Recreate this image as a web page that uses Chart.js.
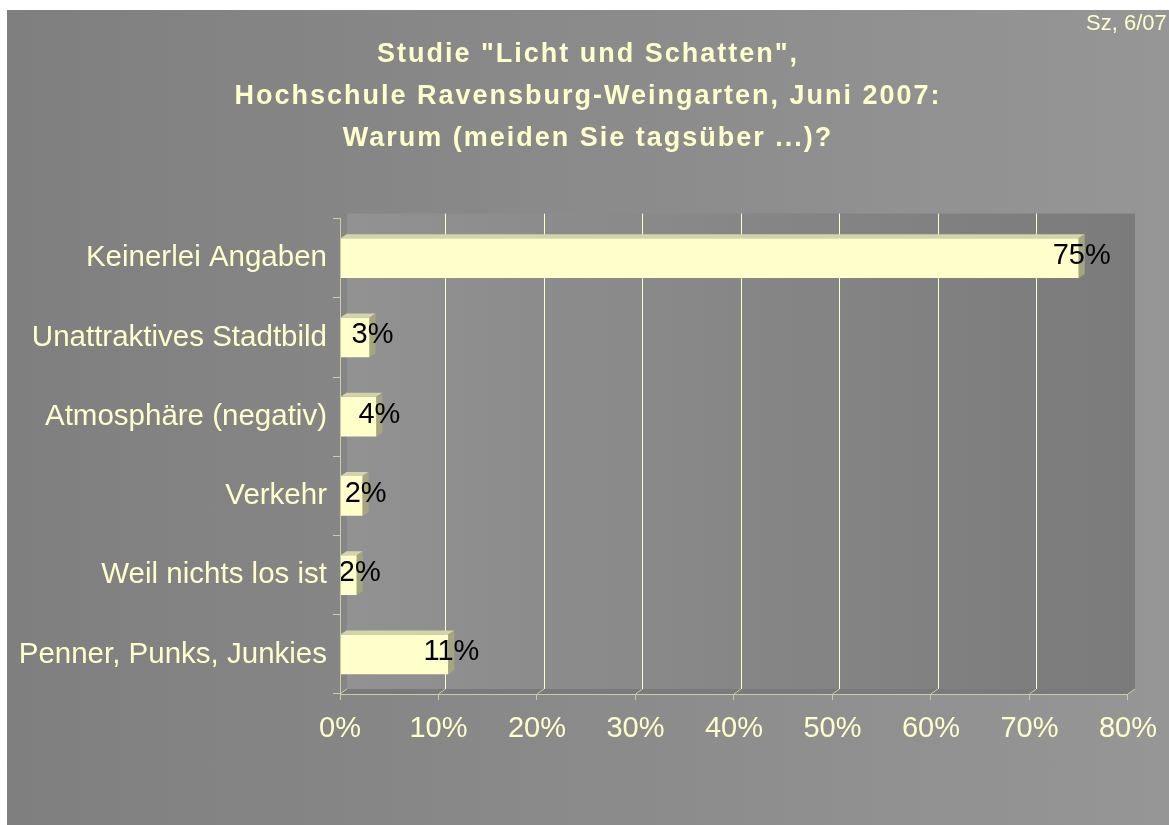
<!DOCTYPE html>
<html>
<head>
<meta charset="utf-8">
<title>Studie "Licht und Schatten"</title>
<script src="https://cdn.jsdelivr.net/npm/chart.js@4"></script>
<style>
  html, body { margin: 0; padding: 0; background: #ffffff; }
  #slide {
    position: absolute; left: 7px; top: 10px; width: 1162px; height: 815px;
    background: linear-gradient(to right, #7f7f7f, #969696);
  }
  canvas { display: block; }
</style>
</head>
<body>
<div id="slide"><canvas id="chart" width="1162" height="815"></canvas></div>
<script>
// Chart data
const categories = ['Keinerlei Angaben', 'Unattraktives Stadtbild', 'Atmosphäre (negativ)', 'Verkehr', 'Weil nichts los ist', 'Penner, Punks, Junkies'];
const shares = [75, 3, 3.7, 2.3, 1.7, 11];
const xMin = 0;
const xMax = 80;
const xStep = 10;
const titleLines = ['Studie "Licht und Schatten",', 'Hochschule Ravensburg-Weingarten, Juni 2007:', 'Warum (meiden Sie tagsüber ...)?'];
const stampText = 'Sz, 6/07';

const FONT = "'Liberation Sans', Arial, sans-serif";
const PALE = '#ffffcc';
const AXIS_LINE = '#cccca8';
const DEPTH = { x: 7, y: 5 };      // back wall offset
const BAR_DEPTH = { x: 6, y: 4 };  // bar top / side faces

function poly(ctx, pts, fill) {
    ctx.beginPath();
    ctx.moveTo(pts[0][0], pts[0][1]);
    for (let i = 1; i < pts.length; i++) ctx.lineTo(pts[i][0], pts[i][1]);
    ctx.closePath();
    ctx.fillStyle = fill;
    ctx.fill();
}

// --- 3D look: walls behind the bars, faces on the bars, value labels ---
const slide3d = {
    id: 'slide3d',
    beforeDraw(chart) {
        const { ctx, chartArea: a } = chart;
        const xs = chart.scales.x;
        ctx.save();
        const g = ctx.createLinearGradient(a.left, 0, a.right, 0);
        g.addColorStop(0, '#929292');
        g.addColorStop(1, '#7b7b7b');
        ctx.fillStyle = g;
        ctx.fillRect(a.left + DEPTH.x, a.top - DEPTH.y, a.right - a.left, a.bottom - a.top);

        poly(ctx, [[a.left, a.top], [a.left + DEPTH.x, a.top - DEPTH.y],
                   [a.left + DEPTH.x, a.bottom - DEPTH.y], [a.left, a.bottom]], '#868686');
        poly(ctx, [[a.left, a.bottom], [a.left + DEPTH.x, a.bottom - DEPTH.y],
                   [a.right + DEPTH.x, a.bottom - DEPTH.y], [a.right, a.bottom]], '#7a7a7a');

        ctx.lineWidth = 1;
        xs.ticks.forEach((t, i) => {
            const px = xs.getPixelForValue(t.value);
            if (i > 0 && i < xs.ticks.length - 1) {
                const gx = Math.round(px + DEPTH.x) + 0.5;
                ctx.strokeStyle = PALE;
                ctx.beginPath();
                ctx.moveTo(gx, a.top - DEPTH.y);
                ctx.lineTo(gx, a.bottom - DEPTH.y);
                ctx.stroke();
            }
            ctx.strokeStyle = AXIS_LINE;
            ctx.beginPath();
            ctx.moveTo(px, a.bottom);
            ctx.lineTo(px + DEPTH.x, a.bottom - DEPTH.y);
            ctx.stroke();
        });
        ctx.restore();
        ctx.letterSpacing = '2px';   // title only
    },
    beforeDatasetsDraw(chart) {
        chart.ctx.letterSpacing = '0px';
    },
    afterDatasetsDraw(chart) {
        const ctx = chart.ctx;
        const meta = chart.getDatasetMeta(0);
        ctx.save();
        meta.data.forEach((bar, i) => {
            const { x, y, base, height } = bar.getProps(['x', 'y', 'base', 'height'], true);
            const top = y - height / 2;
            const bottom = y + height / 2;
            poly(ctx, [[base, top], [base + BAR_DEPTH.x, top - BAR_DEPTH.y],
                       [x + BAR_DEPTH.x, top - BAR_DEPTH.y], [x, top]], '#d4d4ac');
            poly(ctx, [[x, top], [x + BAR_DEPTH.x, top - BAR_DEPTH.y],
                       [x + BAR_DEPTH.x, bottom - BAR_DEPTH.y], [x, bottom]], '#a6a67e');

            ctx.font = '29px ' + FONT;
            ctx.fillStyle = '#000000';
            ctx.textAlign = 'center';
            ctx.textBaseline = 'middle';
            ctx.fillText(Math.round(shares[i]) + '%', x + 3, y - 2);
        });
        ctx.restore();
    },
    afterDraw(chart) {
        const ctx = chart.ctx;
        ctx.save();
        ctx.font = '22px ' + FONT;
        ctx.fillStyle = PALE;
        ctx.textAlign = 'left';
        ctx.textBaseline = 'middle';
        ctx.fillText(stampText, 1079, 14);
        ctx.restore();
    }
};

new Chart(document.getElementById('chart'), {
    type: 'bar',
    data: {
        labels: categories,
        datasets: [{
            data: shares,
            backgroundColor: PALE,
            borderWidth: 0,
            barPercentage: 0.5,
            categoryPercentage: 1
        }]
    },
    options: {
        indexAxis: 'y',
        responsive: false,
        animation: false,
        layout: { padding: 0 },
        plugins: {
            legend: { display: false },
            tooltip: { enabled: false },
            title: {
                display: true,
                text: titleLines,
                color: PALE,
                font: { family: FONT, size: 27, weight: 'bold', lineHeight: 1.55 },
                padding: { top: 24, bottom: 59 }
            }
        },
        scales: {
            x: {
                type: 'linear',
                min: xMin,
                max: xMax,
                ticks: {
                    z: 1,
                    stepSize: xStep,
                    callback: v => v + '%',
                    color: PALE,
                    font: { family: FONT, size: 29, lineHeight: 1.2 },
                    padding: 12,
                    maxRotation: 0
                },
                grid: { display: true, drawOnChartArea: false, drawTicks: true, tickLength: 6, color: AXIS_LINE },
                border: { display: true, color: AXIS_LINE, width: 1, z: 1 },
                afterFit: s => { s.height = 131; }
            },
            y: {
                ticks: {
                    z: 1,
                    color: PALE,
                    font: { family: FONT, size: 29.5 },
                    padding: 6
                },
                grid: { display: true, drawOnChartArea: false, drawTicks: true, tickLength: 7, color: AXIS_LINE },
                border: { display: true, color: AXIS_LINE, width: 1, z: 1 },
                afterFit: s => { s.width = 333; }
            },
            y2: {
                type: 'category',
                position: 'right',
                ticks: { display: false },
                grid: { display: false },
                border: { display: false },
                afterFit: s => { s.width = 39; }
            }
        }
    },
    plugins: [slide3d]
});
</script>
</body>
</html>
